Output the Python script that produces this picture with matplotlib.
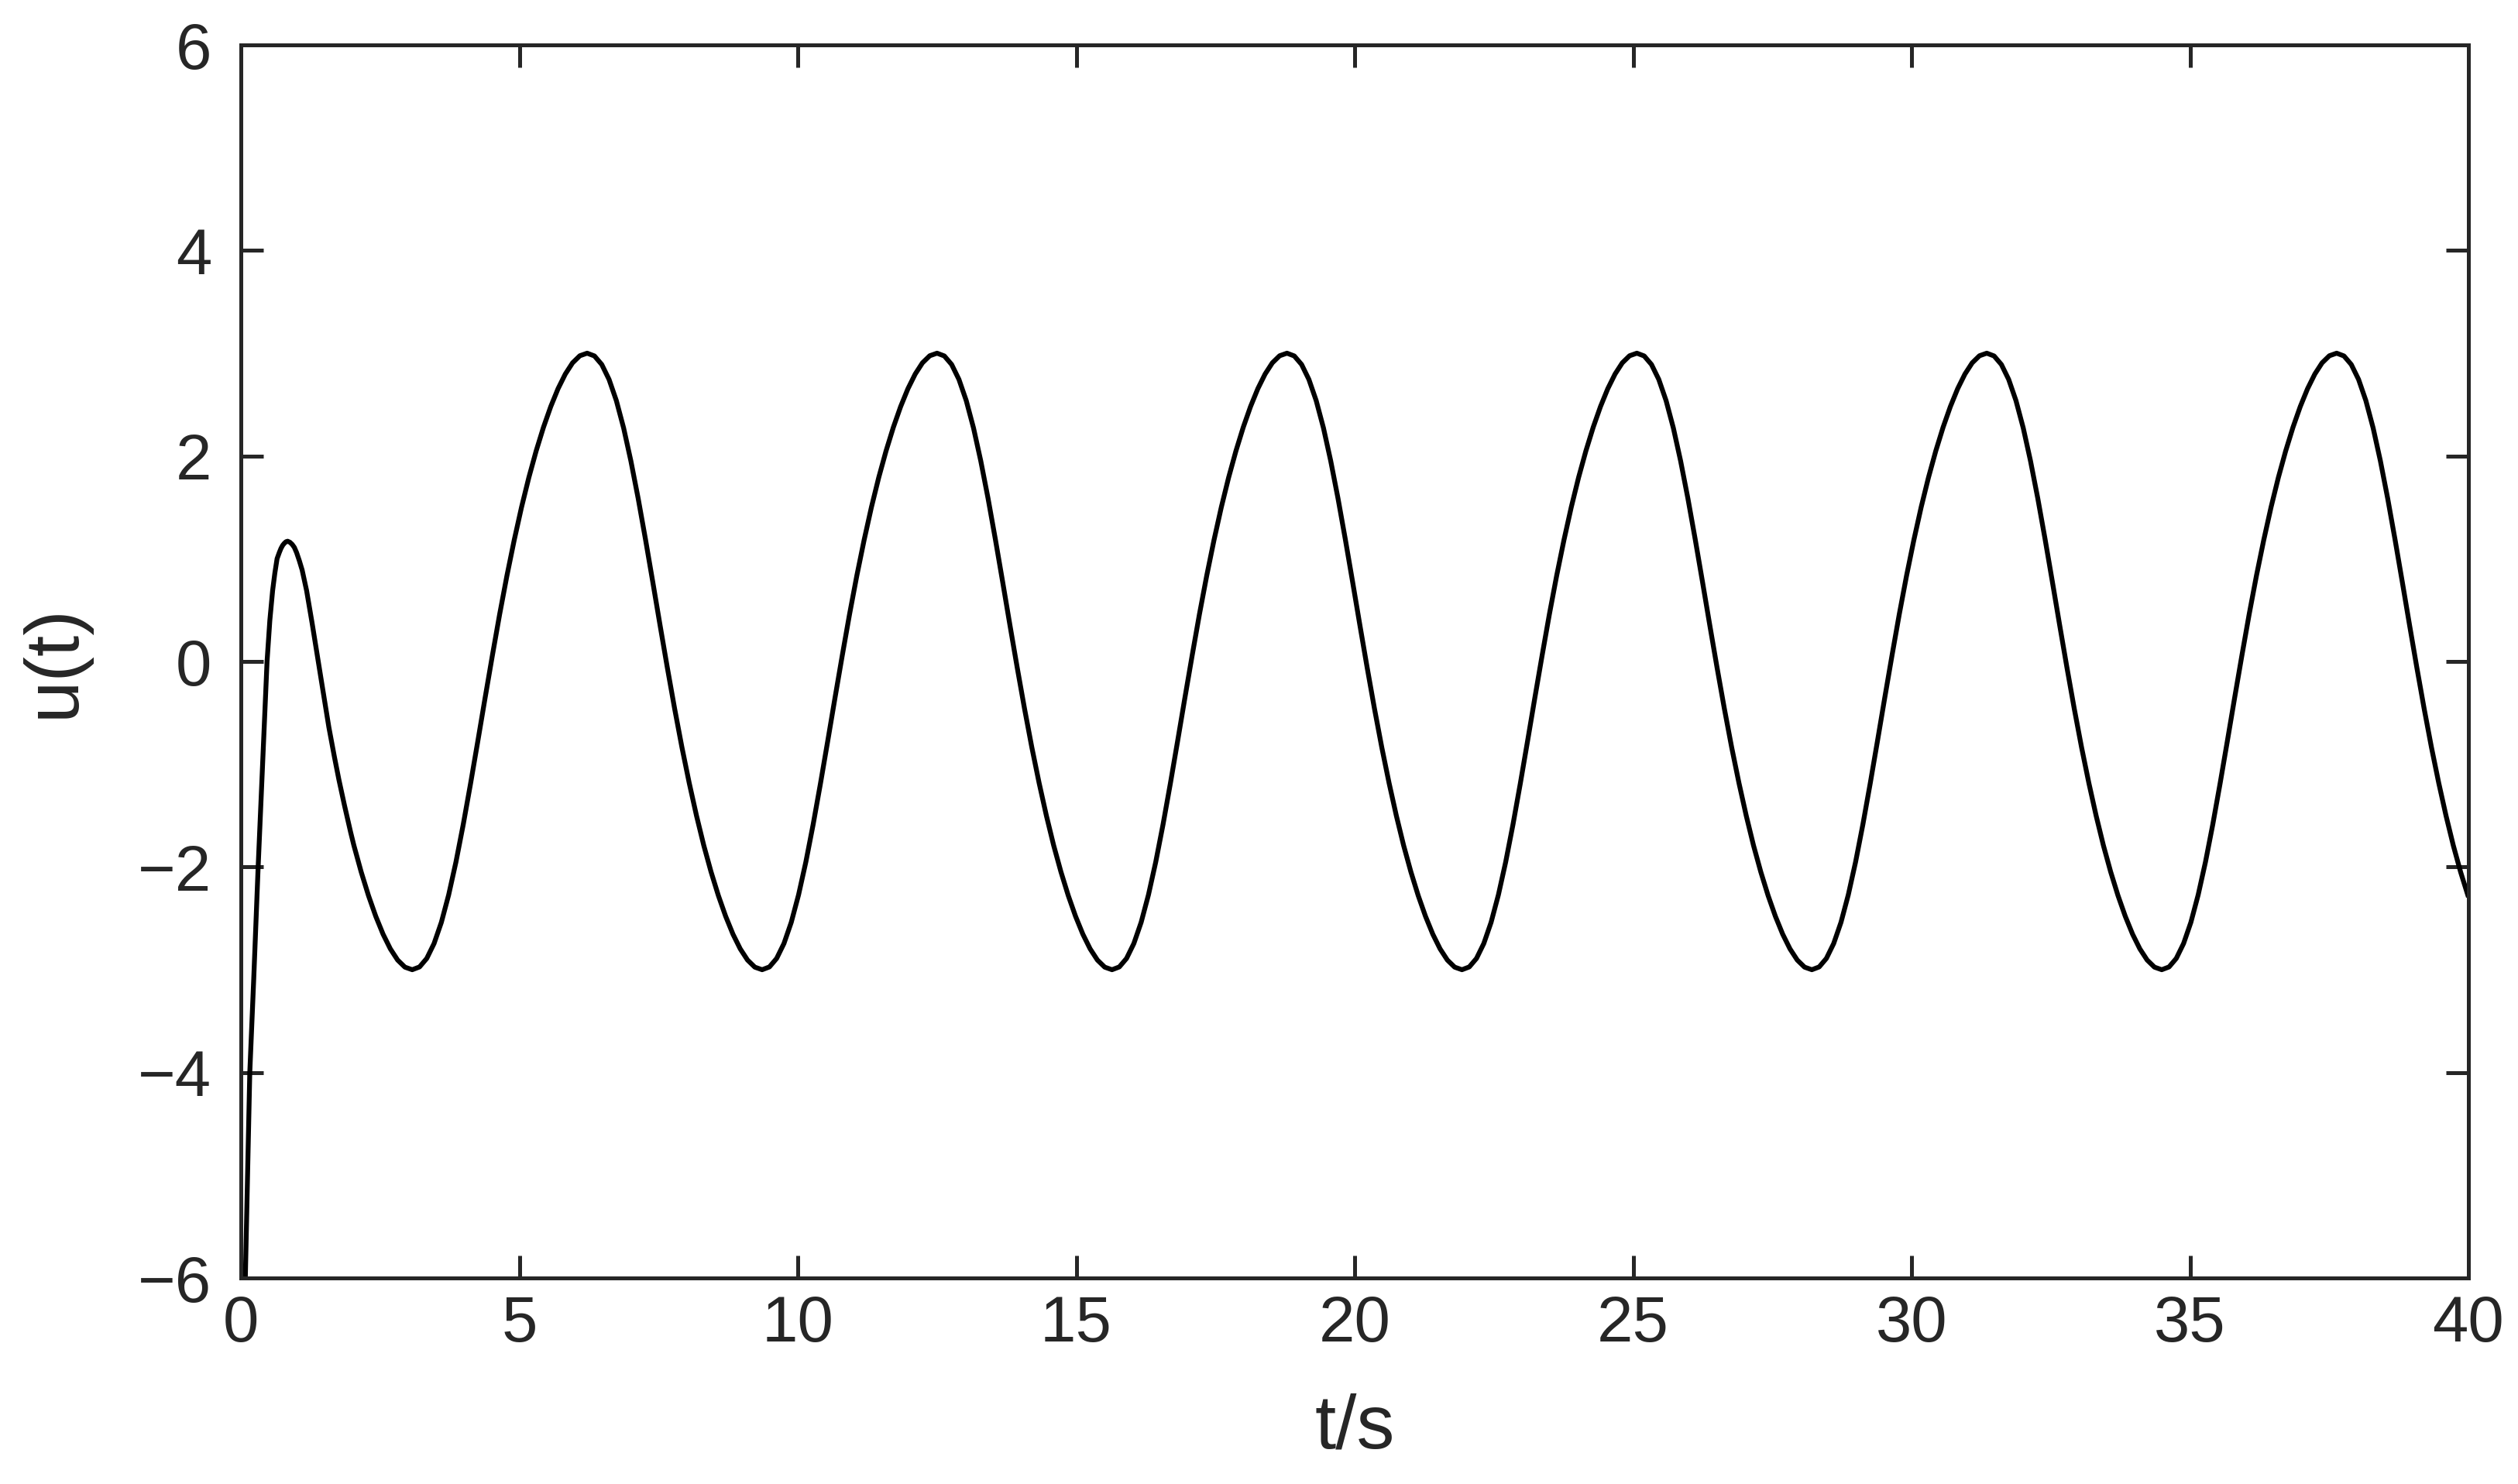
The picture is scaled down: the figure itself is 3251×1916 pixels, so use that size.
import matplotlib
matplotlib.use("Agg")
import matplotlib.pyplot as plt

# ---------------- data ----------------
# initial transient (t in s, u)
t_start = [0.00, 0.08, 0.16, 0.23, 0.31, 0.39, 0.47, 0.52, 0.57, 0.61, 0.65, 0.69, 0.72,
           0.75, 0.78, 0.81, 0.84, 0.88, 0.92, 0.96, 1.00, 1.05, 1.10, 1.14, 1.18, 1.23,
           1.28, 1.33, 1.39, 1.44, 1.50, 1.58, 1.68, 1.76, 1.86, 1.97]
u_start = [-8.00, -6.00, -4.00, -3.10, -2.00, -1.00, 0.00, 0.40, 0.69, 0.86, 1.00, 1.06, 1.10,
           1.13, 1.15, 1.165, 1.17, 1.16, 1.14, 1.11, 1.06, 0.98, 0.89, 0.79, 0.69, 0.53,
           0.37, 0.20, 0.00, -0.17, -0.37, -0.64, -0.93, -1.15, -1.40, -1.66]

# first oscillation (after the transient)
t_cyc0 = [2.029, 2.160, 2.291, 2.422, 2.553, 2.684, 2.815, 2.946, 3.077, 3.208, 3.338, 3.469,
          3.600, 3.731, 3.862, 3.993, 4.124, 4.255, 4.386, 4.517, 4.647, 4.778, 4.909, 5.040,
          5.171, 5.302, 5.433, 5.564, 5.695, 5.826, 5.956, 6.087]
u_cyc0 = [-1.790, -2.048, -2.278, -2.480, -2.654, -2.797, -2.906, -2.975, -3.000, -2.973, -2.890, -2.745,
          -2.539, -2.272, -1.952, -1.587, -1.190, -0.775, -0.353, 0.061, 0.460, 0.836, 1.183, 1.502,
          1.790, 2.048, 2.278, 2.480, 2.654, 2.797, 2.906, 2.975]

t_cyc1 = [6.218, 6.349, 6.480, 6.611, 6.742, 6.873, 7.003, 7.134, 7.265, 7.396, 7.527, 7.658,
          7.789, 7.920, 8.051, 8.182, 8.312, 8.443, 8.574, 8.705, 8.836, 8.967, 9.098, 9.229,
          9.360, 9.491, 9.621, 9.752, 9.883, 10.014, 10.145, 10.276, 10.407, 10.538, 10.669, 10.800,
          10.930, 11.061, 11.192, 11.323, 11.454, 11.585, 11.716, 11.847, 11.978, 12.109, 12.239, 12.370]
u_cyc1 = [3.000, 2.973, 2.890, 2.745, 2.539, 2.272, 1.952, 1.587, 1.190, 0.775, 0.353, -0.061,
          -0.460, -0.836, -1.183, -1.502, -1.790, -2.048, -2.278, -2.480, -2.654, -2.797, -2.906, -2.975,
          -3.000, -2.973, -2.890, -2.745, -2.539, -2.272, -1.952, -1.587, -1.190, -0.775, -0.353, 0.061,
          0.460, 0.836, 1.183, 1.502, 1.790, 2.048, 2.278, 2.480, 2.654, 2.797, 2.906, 2.975]

t_cyc2 = [12.501, 12.632, 12.763, 12.894, 13.025, 13.156, 13.286, 13.417, 13.548, 13.679, 13.810, 13.941,
          14.072, 14.203, 14.334, 14.465, 14.595, 14.726, 14.857, 14.988, 15.119, 15.250, 15.381, 15.512,
          15.643, 15.774, 15.904, 16.035, 16.166, 16.297, 16.428, 16.559, 16.690, 16.821, 16.952, 17.083,
          17.213, 17.344, 17.475, 17.606, 17.737, 17.868, 17.999, 18.130, 18.261, 18.392, 18.522, 18.653]
u_cyc2 = [3.000, 2.973, 2.890, 2.745, 2.539, 2.272, 1.952, 1.587, 1.190, 0.775, 0.353, -0.061,
          -0.460, -0.836, -1.183, -1.502, -1.790, -2.048, -2.278, -2.480, -2.654, -2.797, -2.906, -2.975,
          -3.000, -2.973, -2.890, -2.745, -2.539, -2.272, -1.952, -1.587, -1.190, -0.775, -0.353, 0.061,
          0.460, 0.836, 1.183, 1.502, 1.790, 2.048, 2.278, 2.480, 2.654, 2.797, 2.906, 2.975]

t_cyc3 = [18.785, 18.916, 19.047, 19.178, 19.309, 19.440, 19.570, 19.701, 19.832, 19.963, 20.094, 20.225,
          20.356, 20.487, 20.618, 20.749, 20.879, 21.010, 21.141, 21.272, 21.403, 21.534, 21.665, 21.796,
          21.927, 22.058, 22.188, 22.319, 22.450, 22.581, 22.712, 22.843, 22.974, 23.105, 23.236, 23.367,
          23.497, 23.628, 23.759, 23.890, 24.021, 24.152, 24.283, 24.414, 24.545, 24.676, 24.806, 24.937]
u_cyc3 = [3.000, 2.973, 2.890, 2.745, 2.539, 2.272, 1.952, 1.587, 1.190, 0.775, 0.353, -0.061,
          -0.460, -0.836, -1.183, -1.502, -1.790, -2.048, -2.278, -2.480, -2.654, -2.797, -2.906, -2.975,
          -3.000, -2.973, -2.890, -2.745, -2.539, -2.272, -1.952, -1.587, -1.190, -0.775, -0.353, 0.061,
          0.460, 0.836, 1.183, 1.502, 1.790, 2.048, 2.278, 2.480, 2.654, 2.797, 2.906, 2.975]

t_cyc4 = [25.068, 25.199, 25.330, 25.461, 25.592, 25.723, 25.853, 25.984, 26.115, 26.246, 26.377, 26.508,
          26.639, 26.770, 26.901, 27.032, 27.162, 27.293, 27.424, 27.555, 27.686, 27.817, 27.948, 28.079,
          28.210, 28.341, 28.471, 28.602, 28.733, 28.864, 28.995, 29.126, 29.257, 29.388, 29.519, 29.650,
          29.780, 29.911, 30.042, 30.173, 30.304, 30.435, 30.566, 30.697, 30.828, 30.959, 31.089, 31.220]
u_cyc4 = [3.000, 2.973, 2.890, 2.745, 2.539, 2.272, 1.952, 1.587, 1.190, 0.775, 0.353, -0.061,
          -0.460, -0.836, -1.183, -1.502, -1.790, -2.048, -2.278, -2.480, -2.654, -2.797, -2.906, -2.975,
          -3.000, -2.973, -2.890, -2.745, -2.539, -2.272, -1.952, -1.587, -1.190, -0.775, -0.353, 0.061,
          0.460, 0.836, 1.183, 1.502, 1.790, 2.048, 2.278, 2.480, 2.654, 2.797, 2.906, 2.975]

t_cyc5 = [31.351, 31.482, 31.613, 31.744, 31.875, 32.006, 32.136, 32.267, 32.398, 32.529, 32.660, 32.791,
          32.922, 33.053, 33.184, 33.315, 33.445, 33.576, 33.707, 33.838, 33.969, 34.100, 34.231, 34.362,
          34.493, 34.624, 34.754, 34.885, 35.016, 35.147, 35.278, 35.409, 35.540, 35.671, 35.802, 35.933,
          36.063, 36.194, 36.325, 36.456, 36.587, 36.718, 36.849, 36.980, 37.111, 37.242, 37.372, 37.503]
u_cyc5 = [3.000, 2.973, 2.890, 2.745, 2.539, 2.272, 1.952, 1.587, 1.190, 0.775, 0.353, -0.061,
          -0.460, -0.836, -1.183, -1.502, -1.790, -2.048, -2.278, -2.480, -2.654, -2.797, -2.906, -2.975,
          -3.000, -2.973, -2.890, -2.745, -2.539, -2.272, -1.952, -1.587, -1.190, -0.775, -0.353, 0.061,
          0.460, 0.836, 1.183, 1.502, 1.790, 2.048, 2.278, 2.480, 2.654, 2.797, 2.906, 2.975]

t_cyc6 = [37.634, 37.765, 37.896, 38.027, 38.158, 38.289, 38.419, 38.550, 38.681, 38.812, 38.943, 39.074,
          39.205, 39.336, 39.467, 39.598, 39.728, 39.859, 39.990, 40.000]
u_cyc6 = [3.000, 2.973, 2.890, 2.745, 2.539, 2.272, 1.952, 1.587, 1.190, 0.775, 0.353, -0.061,
          -0.460, -0.836, -1.183, -1.502, -1.790, -2.048, -2.278, -2.293]

x_ticks = [0, 5, 10, 15, 20, 25, 30, 35, 40]
y_ticks = [-6, -4, -2, 0, 2, 4, 6]
x_label = "t/s"
y_label = "u(t)"

# ---------------- drawing ----------------
plt.rcParams['font.family'] = ['Liberation Sans', 'DejaVu Sans']
axis_color = '#262626'

W, H, DPI = 3251, 1916, 300
fig = plt.figure(figsize=(W / DPI, H / DPI), dpi=DPI, facecolor='white')
ax = fig.add_axes([311 / W, 1 - 1650 / H, (3187 - 311) / W, (1650 - 58) / H])

t_all = t_start + t_cyc0 + t_cyc1 + t_cyc2 + t_cyc3 + t_cyc4 + t_cyc5 + t_cyc6
u_all = u_start + u_cyc0 + u_cyc1 + u_cyc2 + u_cyc3 + u_cyc4 + u_cyc5 + u_cyc6
ax.plot(t_all, u_all, color='black', linewidth=1.5,
        solid_joinstyle='round', solid_capstyle='butt')

ax.set_xlim(0, 40)
ax.set_ylim(-6, 6)
ax.set_xticks(x_ticks)
ax.set_yticks(y_ticks)
ax.set_xticklabels([str(v) for v in x_ticks])
ax.set_yticklabels([str(v).replace('-', '\u2212') for v in y_ticks])

for s in ax.spines.values():
    s.set_color(axis_color)
    s.set_linewidth(1.2)

ax.tick_params(axis='both', which='major', direction='in', length=7, width=1.2,
               colors=axis_color, labelsize=20, top=True, right=True)
ax.tick_params(axis='x', pad=5)
ax.tick_params(axis='y', pad=9)

ax.set_xlabel(x_label, fontsize=23.5, color=axis_color, labelpad=12)
ax.set_ylabel(y_label, fontsize=23.5, color=axis_color, labelpad=15)

fig.savefig('out.png', dpi=DPI, facecolor='white')
